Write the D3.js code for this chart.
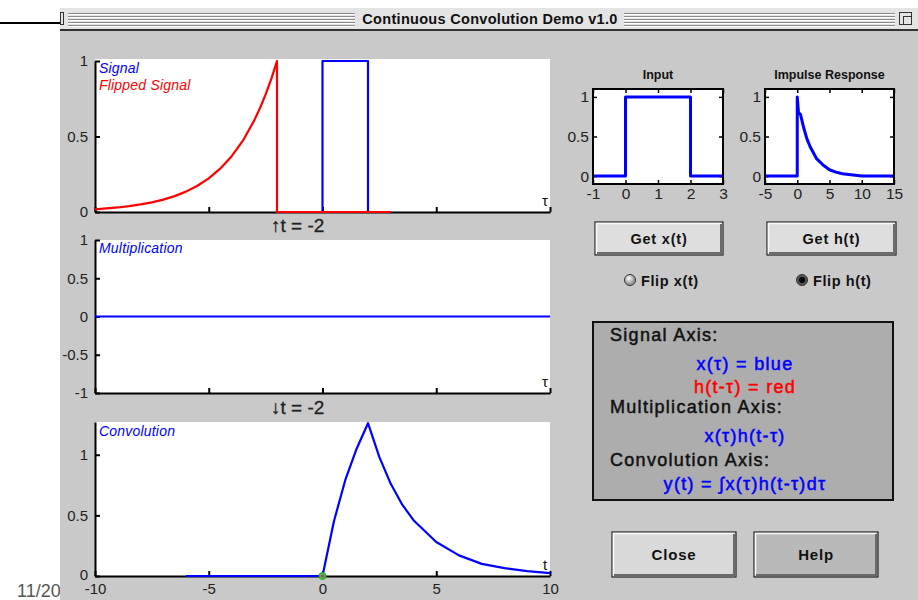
<!DOCTYPE html>
<html>
<head>
<meta charset="utf-8">
<script src="https://cdn.jsdelivr.net/npm/d3@7"></script>
<style>
  body { margin: 0; background: #fff; }
  text { font-family: "Liberation Sans", Arial, sans-serif; }
</style>
</head>
<body>
<div id="chart"></div>
<script>
// Data
const mainTicks = [-10, -5, 0, 5, 10]
const signalYTicks = [0, 0.5, 1]
const multYTicks = [-1, -0.5, 0, 0.5, 1]
const convYTicks = [0, 0.5, 1]
const inputTicks = [-1, 0, 1, 2, 3]
const impulseTicks = [-5, 0, 5, 10, 15]
const smallYTicks = [0, 0.5, 1]

const tNow = -2

// x(tau) on the signal axis
const signalTau = [-1, 0, 0, 2, 2, 3]
const signalAmp = [0, 0, 1, 1, 0, 0]
// h(t - tau), flipped and shifted
const flipTau = [-10, -9.5, -9, -8.5, -8, -7.5, -7, -6.5, -6, -5.5, -5, -4.5, -4, -3.5, -3, -2.75, -2.5, -2.25, -2, -2, 3]
const flipAmp = [0.018, 0.024, 0.03, 0.039, 0.05, 0.064, 0.082, 0.105, 0.135, 0.174, 0.223, 0.287, 0.368, 0.472, 0.607, 0.687, 0.779, 0.882, 1, 0, 0]
// product
const multTau = [-10, 10]
const multAmp = [0, 0]
// convolution output
const convT = [-6, 0, 0.5, 1, 1.5, 2, 2.5, 3, 3.5, 4, 5, 6, 7, 8, 9, 10]
const convY = [0, 0, 0.45, 0.79, 1.05, 1.26, 0.98, 0.76, 0.59, 0.46, 0.28, 0.17, 0.10, 0.065, 0.04, 0.023]
// small plots
const inputT = [-1, 0, 0, 2, 2, 3]
const inputY = [0, 0, 1, 1, 0, 0]
const impT = [-5, 0, 0, 0.2, 0.5, 1, 1.5, 2, 3, 4, 5, 6, 7, 8, 9, 10, 15]
const impY = [0, 0, 1, 0.8, 0.78, 0.61, 0.47, 0.37, 0.22, 0.14, 0.08, 0.05, 0.03, 0.02, 0.01, 0, 0]

const width = 918
const height = 600
const blue = "#0000ff"
const red = "#ff0000"

const svg = d3.select("#chart")
    .append("svg")
    .attr("width", width)
    .attr("height", height)

// slide remnants behind the window
svg.append("line")
    .attr("x1", 0).attr("x2", 60).attr("y1", 23).attr("y2", 23)
    .attr("stroke", "#000").attr("stroke-width", 2)
svg.append("text")
    .attr("x", 17).attr("y", 597)
    .attr("font-size", 18).attr("fill", "#555")
    .text("11/20")

// window body and title bar
svg.append("rect")
    .attr("x", 60).attr("y", 30).attr("width", 858).attr("height", 570)
    .attr("fill", "#c9c9c9")
svg.append("rect")
    .attr("x", 60).attr("y", 8).attr("width", 858).attr("height", 22)
    .attr("fill", "#e4e4e4")
svg.append("line")
    .attr("x1", 60).attr("x2", 918).attr("y1", 30).attr("y2", 30)
    .attr("stroke", "#333").attr("stroke-width", 2)
svg.append("rect")
    .attr("x", 60.5).attr("y", 12.5).attr("width", 3).attr("height", 12)
    .attr("fill", "none").attr("stroke", "#333")
svg.append("rect")
    .attr("x", 899.5).attr("y", 12.5).attr("width", 12).attr("height", 12)
    .attr("fill", "none").attr("stroke", "#333")
svg.append("rect")
    .attr("x", 903.5).attr("y", 16.5).attr("width", 8).attr("height", 8)
    .attr("fill", "none").attr("stroke", "#333")

const stripeYs = [13, 16, 19, 22, 25]
const stripeSpans = [[68, 355], [624, 895]]
stripeSpans.forEach(s => {
    svg.selectAll(null)
        .data(stripeYs)
        .enter()
        .append("line")
        .attr("x1", s[0]).attr("x2", s[1])
        .attr("y1", d => d + 0.5).attr("y2", d => d + 0.5)
        .attr("stroke", "#8a8a8a")
    svg.selectAll(null)
        .data(stripeYs)
        .enter()
        .append("line")
        .attr("x1", s[0]).attr("x2", s[1])
        .attr("y1", d => d + 1.5).attr("y2", d => d + 1.5)
        .attr("stroke", "#fff")
})
svg.append("text")
    .attr("x", 490).attr("y", 23.5)
    .attr("text-anchor", "middle")
    .attr("font-family", "'Liberation Sans Narrow', 'Liberation Sans', Arial, sans-serif")
    .attr("font-weight", "bold").attr("font-size", 14.5)
    .attr("letter-spacing", 0.3)
    .attr("fill", "#111")
    .text("Continuous Convolution Demo v1.0")

// ---------- main axes ----------
const x = d3.scaleLinear().domain([-10, 10]).range([95, 550])

const panels = [
    {y: d3.scaleLinear().domain([0, 1]).range([212, 61]), top: 59, ticks: signalYTicks, labels: false, xlab: "τ"},
    {y: d3.scaleLinear().domain([-1, 1]).range([393, 240]), top: 240, ticks: multYTicks, labels: false, xlab: "τ"},
    {y: d3.scaleLinear().domain([0, 1.27]).range([576, 422]), top: 422, ticks: convYTicks, labels: true, xlab: "t"}
]

function styleAxis(g, size) {
    g.selectAll("path, line").attr("stroke", "#000").attr("stroke-width", 2)
    g.selectAll("text")
        .attr("font-size", size)
        .attr("fill", "#222")
        .attr("font-family", "'Liberation Sans', Arial, sans-serif")
}

panels.forEach(p => {
    const bottom = p.y.range()[0]
    svg.append("rect")
        .attr("x", x(-10)).attr("y", p.top)
        .attr("width", x(10) - x(-10)).attr("height", bottom - p.top)
        .attr("fill", "#fff")

    const gx = svg.append("g")
        .attr("transform", `translate(0,${bottom})`)
        .call(d3.axisBottom(x)
            .tickValues(mainTicks)
            .tickSizeInner(-5)
            .tickSizeOuter(0)
            .tickPadding(7)
            .tickFormat(d => p.labels ? String(d) : ""))
    styleAxis(gx, 15)

    const gy = svg.append("g")
        .attr("transform", `translate(${x(-10)},0)`)
        .call(d3.axisLeft(p.y)
            .tickValues(p.ticks)
            .tickSizeInner(-5)
            .tickSizeOuter(0)
            .tickPadding(7)
            .tickFormat(d => String(d)))
    styleAxis(gy, 15)
    // keep the "0" label clear of the "-10" label on the bottom panel
    if (p.labels) gy.selectAll(".tick text").filter(d => d === 0).attr("dy", "0.2em")

    svg.append("text")
        .attr("x", 545).attr("y", bottom - 6)
        .attr("text-anchor", "middle")
        .attr("font-size", 15).attr("fill", "#111")
        .text(p.xlab)
})

const line = (xs, ys) => d3.line().x(d => d[0]).y(d => d[1])(xs.map((v, i) => [v, ys[i]]))

function plotSeries(xs, ys, xScale, yScale, color, w) {
    svg.append("path")
        .attr("d", line(xs.map(xScale), ys.map(yScale)))
        .attr("fill", "none")
        .attr("stroke", color)
        .attr("stroke-width", w)
        .attr("stroke-linejoin", "round")
}

plotSeries(signalTau, signalAmp, x, panels[0].y, blue, 2.2)
plotSeries(flipTau, flipAmp, x, panels[0].y, red, 2.2)
plotSeries(multTau, multAmp, x, panels[1].y, blue, 2.2)
plotSeries(convT, convY, x, panels[2].y, blue, 2.2)

// current point marker
svg.append("circle")
    .attr("cx", x(0)).attr("cy", panels[2].y(0)).attr("r", 3.5)
    .attr("fill", "#3c3").attr("stroke", "#2a2").attr("stroke-width", 1)
svg.append("circle")
    .attr("cx", x(0)).attr("cy", panels[2].y(0)).attr("r", 1.5)
    .attr("fill", "#e0208a")

// in-plot labels
const inLabels = [
    {text: "Signal", y: 73, color: blue},
    {text: "Flipped Signal", y: 90, color: red},
    {text: "Multiplication", y: 253, color: blue},
    {text: "Convolution", y: 436, color: blue}
]
svg.selectAll(null)
    .data(inLabels)
    .enter()
    .append("text")
    .attr("x", 99).attr("y", d => d.y)
    .attr("font-size", 14).attr("font-style", "italic")
    .attr("letter-spacing", 0.2)
    .attr("fill", d => d.color)
    .text(d => d.text)

// time markers under the plots
svg.append("text")
    .attr("x", x(tNow) - 6).attr("y", 232)
    .attr("font-size", 19).attr("fill", "#222")
    .attr("stroke", "#222").attr("stroke-width", 0.3)
    .text(`↑t = ${tNow}`)
svg.append("text")
    .attr("x", x(tNow) - 6).attr("y", 414)
    .attr("font-size", 19).attr("fill", "#222")
    .attr("stroke", "#222").attr("stroke-width", 0.3)
    .text(`↓t = ${tNow}`)

// ---------- small plots ----------
const smallY = d3.scaleLinear().domain([-0.1, 1.1]).range([184, 89])
const smallPlots = [
    {title: "Input", x: d3.scaleLinear().domain([-1, 3]).range([593, 723]), ticks: inputTicks, xs: inputT, ys: inputY},
    {title: "Impulse Response", x: d3.scaleLinear().domain([-5, 15]).range([765, 894]), ticks: impulseTicks, xs: impT, ys: impY}
]

smallPlots.forEach(p => {
    const [x0, x1] = p.x.range()
    const [yb, yt] = smallY.range()
    svg.append("rect")
        .attr("x", x0).attr("y", yt).attr("width", x1 - x0).attr("height", yb - yt)
        .attr("fill", "#fff")

    const axes = [
        {axis: d3.axisBottom(p.x).tickValues(p.ticks).tickFormat(d => String(d)), t: `translate(0,${yb})`},
        {axis: d3.axisTop(p.x).tickValues(p.ticks).tickFormat(""), t: `translate(0,${yt})`},
        {axis: d3.axisLeft(smallY).tickValues(smallYTicks).tickFormat(d => String(d)), t: `translate(${x0},0)`},
        {axis: d3.axisRight(smallY).tickValues(smallYTicks).tickFormat(""), t: `translate(${x1},0)`}
    ]
    axes.forEach(a => {
        const g = svg.append("g")
            .attr("transform", a.t)
            .call(a.axis.tickSizeInner(-4).tickSizeOuter(0).tickPadding(4))
        g.select(".domain").remove()
        styleAxis(g, 15.5)
        g.selectAll("line").attr("stroke-width", 1.5)
    })

    plotSeries(p.xs, p.ys, p.x, smallY, blue, 3)

    svg.append("rect")
        .attr("x", x0).attr("y", yt).attr("width", x1 - x0).attr("height", yb - yt)
        .attr("fill", "none").attr("stroke", "#000").attr("stroke-width", 2)

    svg.append("text")
        .attr("x", (x0 + x1) / 2).attr("y", 79)
        .attr("text-anchor", "middle")
        .attr("font-size", 12.5).attr("font-weight", "bold").attr("fill", "#111")
        .text(p.title)
})

// ---------- buttons ----------
function button(x0, y0, w, h, label, fill, size) {
    const g = svg.append("g")
    g.append("rect")
        .attr("x", x0).attr("y", y0).attr("width", w).attr("height", h)
        .attr("fill", fill).attr("stroke", "#222").attr("stroke-width", 1.2)
    g.append("path")
        .attr("d", `M${x0 + 1.5},${y0 + h - 1.5}V${y0 + 1.5}H${x0 + w - 1.5}`)
        .attr("fill", "none").attr("stroke", "#fafafa").attr("stroke-width", 1.5)
    g.append("path")
        .attr("d", `M${x0 + 2},${y0 + h - 2}H${x0 + w - 2}V${y0 + 2}`)
        .attr("fill", "none").attr("stroke", "#6a6a6a").attr("stroke-width", 2)
    g.append("text")
        .attr("x", x0 + w / 2).attr("y", y0 + h / 2 + size * 0.36)
        .attr("text-anchor", "middle")
        .attr("font-size", size).attr("font-weight", "bold")
        .attr("letter-spacing", 0.8)
        .attr("fill", "#111")
        .text(label)
}

button(595, 222, 128, 33, "Get x(t)", "#dedede", 14.5)
button(767, 222, 129, 33, "Get h(t)", "#dedede", 14.5)
button(612, 532, 124, 45, "Close", "#d9d9d9", 15)
button(754, 532, 124, 45, "Help", "#b9b9b9", 15)

// radio buttons
const radios = [
    {cx: 630, label: "Flip x(t)", on: false},
    {cx: 802, label: "Flip h(t)", on: true}
]
const defs = svg.append("defs")
const grad = defs.append("radialGradient").attr("id", "radio").attr("cx", "40%").attr("cy", "35%")
grad.append("stop").attr("offset", "0%").attr("stop-color", "#fff")
grad.append("stop").attr("offset", "100%").attr("stop-color", "#999")

radios.forEach(r => {
    svg.append("circle")
        .attr("cx", r.cx).attr("cy", 280).attr("r", 5.5)
        .attr("fill", r.on ? "#555" : "url(#radio)")
        .attr("stroke", "#333").attr("stroke-width", 1)
    if (r.on) {
        svg.append("circle")
            .attr("cx", r.cx).attr("cy", 280).attr("r", 3)
            .attr("fill", "#000")
    }
    svg.append("text")
        .attr("x", r.cx + 11).attr("y", 285.5)
        .attr("font-size", 14.5).attr("font-weight", "bold")
        .attr("letter-spacing", 0.6)
        .attr("fill", "#111")
        .text(r.label)
})

// ---------- legend box ----------
svg.append("rect")
    .attr("x", 593).attr("y", 322).attr("width", 300).attr("height", 178)
    .attr("fill", "#adadad").attr("stroke", "#111").attr("stroke-width", 2)

const legendLines = [
    {text: "Signal Axis:", y: 341, color: "#111", anchor: "start"},
    {text: "x(τ) = blue", y: 370, color: blue, anchor: "middle"},
    {text: "h(t-τ) = red", y: 393, color: red, anchor: "middle"},
    {text: "Multiplication Axis:", y: 413, color: "#111", anchor: "start"},
    {text: "x(τ)h(t-τ)", y: 442, color: blue, anchor: "middle"},
    {text: "Convolution Axis:", y: 466, color: "#111", anchor: "start"},
    {text: "y(t) = ∫x(τ)h(t-τ)dτ", y: 490, color: blue, anchor: "middle"}
]
svg.selectAll(null)
    .data(legendLines)
    .enter()
    .append("text")
    .attr("x", d => d.anchor === "start" ? 610 : 745)
    .attr("y", d => d.y)
    .attr("text-anchor", d => d.anchor)
    .attr("font-size", 18)
    .attr("letter-spacing", 1.3)
    .attr("fill", d => d.color)
    .attr("stroke", d => d.color)
    .attr("stroke-width", 0.5)
    .text(d => d.text)
</script>
</body>
</html>
